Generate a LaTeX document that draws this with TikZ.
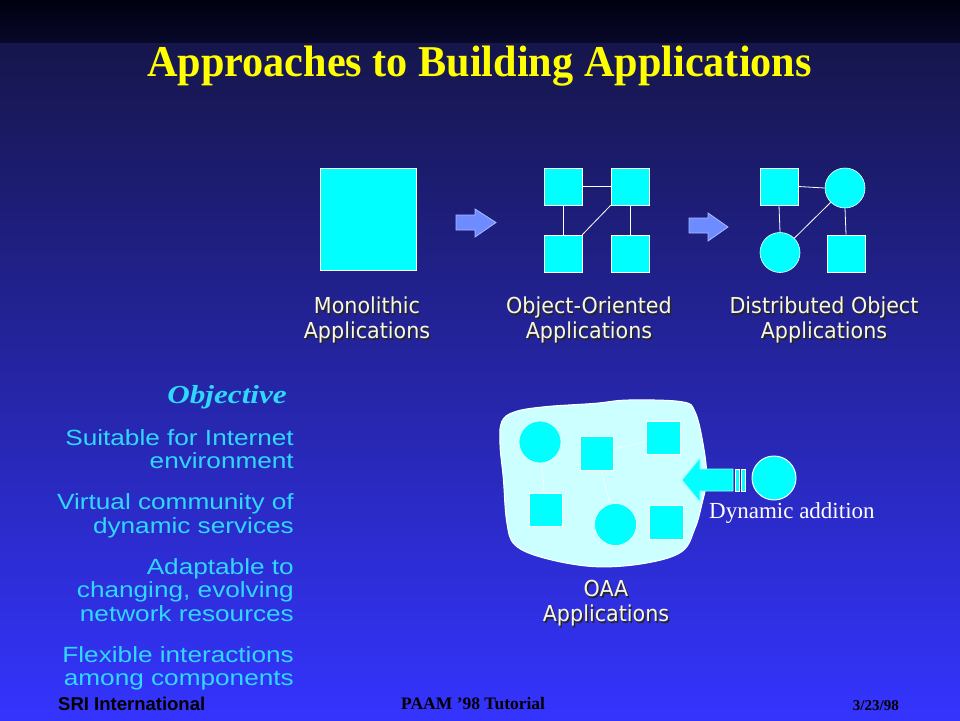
\documentclass[tikz,border=0pt]{standalone}
\usepackage{fontspec}
\setmainfont{Liberation Serif}
\newfontfamily\headfont[FakeStretch=0.96]{Liberation Serif}
\newfontfamily\objfont[FakeStretch=1.2]{Liberation Serif}
\newfontfamily\listfont[FakeStretch=1.19]{Liberation Sans}
\newfontfamily\capfont[FakeStretch=0.94]{DejaVu Sans}
\newfontfamily\footfont{Liberation Sans}
\definecolor{bgtop}{HTML}{000010}
\definecolor{bgband}{HTML}{08082A}
\definecolor{bgmid}{HTML}{16164C}
\definecolor{bgbot}{HTML}{3434FF}
\definecolor{objcyan}{HTML}{00FFFF}
\definecolor{blobcyan}{HTML}{CCFFFF}
\definecolor{flowblue}{HTML}{6E8CFF}
\definecolor{flowedge}{HTML}{A8BCFF}
\definecolor{listcyan}{HTML}{30D8FF}
\definecolor{lblcream}{HTML}{F8F8E2}
\definecolor{titleyellow}{HTML}{FFFF00}
\begin{document}
\begin{tikzpicture}[x=1pt,y=-1pt,
    obj/.style={draw=white,line width=0.6pt,fill=objcyan,inner sep=0pt,minimum width=38pt,minimum height=37pt},
    objc/.style={circle,draw=white,line width=0.6pt,fill=objcyan,inner sep=0pt,minimum size=40pt},
    link/.style={draw=white,line width=0.8pt},
    flow/.style={fill=flowblue,draw=flowedge,line width=0.8pt},
    lbl/.style={font=\capfont\fontsize{22}{25}\selectfont,text=lblcream,align=center,anchor=base,inner sep=0pt},
    lblsh/.style={lbl,text=black!85},
    list/.style={font=\listfont\fontsize{22}{23.5}\selectfont,text=listcyan,align=right,anchor=base east,inner sep=0pt}]
	\useasboundingbox (0,0) rectangle (960,720);
	\shade[top color=bgtop,bottom color=bgband] (0,0) rectangle (960,43);
	\shade[top color=bgmid,bottom color=bgbot] (0,43) rectangle (960,720);
	\node[font=\headfont\bfseries\fontsize{44}{48}\selectfont,text=titleyellow,anchor=base,inner sep=0pt] (ttl) at (479.5,76) {Approaches to Building Applications};
	% monolithic
	\node[obj,minimum width=96pt,minimum height=102pt] (mono) at (368,219) {};
	\draw[flow] (456,215) -- (475,215) -- (475,209) -- (496,222.5) -- (475,237) -- (475,230) -- (456,230) -- cycle;
	% object-oriented
	\node[obj] (a1) at (563,186.5) {};
	\node[obj] (a2) at (630,186.5) {};
	\node[obj] (a3) at (563,253.5) {};
	\node[obj] (a4) at (630,253.5) {};
	\draw[link] (a1.east) -- (a2.west);
	\draw[link] (a1.south) -- (a3.north);
	\draw[link] (a2.south) -- (a4.north);
	\draw[link] (a2.south west) -- (a3.north east);
	\draw[flow] (689,218) -- (708,218) -- (708,213) -- (728,227) -- (708,241) -- (708,233) -- (689,233) -- cycle;
	% distributed
	\node[obj] (d1) at (779,186.5) {};
	\node[objc] (d2) at (845,188) {};
	\node[objc] (d3) at (780,252.5) {};
	\node[obj] (d4) at (846,253.5) {};
	\draw[link] (d1.east) -- (d2.west);
	\draw[link] (d1.south) -- (d3.north);
	\draw[link] (d2.south) -- (d4.north);
	\draw[link] (d2.south west) -- (d3.north east);
	\node[lblsh] at (368.5,340) {Monolithic\\Applications};
	\node[lbl] (monolbl) at (367,338.5) {Monolithic\\Applications};
	\node[lblsh] at (590.5,340) {Object-Oriented\\Applications};
	\node[lbl] (oolbl) at (589,338.5) {Object-Oriented\\Applications};
	\node[lblsh] at (825.5,340) {Distributed Object\\Applications};
	\node[lbl] (dolbl) at (824,338.5) {Distributed Object\\Applications};
	% oaa
	\draw[fill=blobcyan,draw=white,line width=1pt] plot[smooth cycle,tension=0.6] coordinates {(501.7,421.7) (515,411.7) (545,406.7) (595,403.3) (628.3,400) (681.7,401.7) (695,411.7) (703.3,445) (706.7,478.3) (701.7,505) (695,528.3) (681.7,551.7) (645,563.3) (595,566.7) (545,558.3) (515,545) (506.7,521.7) (503.3,478.3) (500,445)};
	\node[objc,minimum size=42pt] (c1) at (540,442) {};
	\node[obj,minimum width=33pt,minimum height=34pt] (s2) at (596.5,453) {};
	\node[obj,minimum width=34pt,minimum height=33pt] (s3) at (663,437.5) {};
	\node[obj,minimum width=33pt,minimum height=33pt] (s4) at (545.5,509.5) {};
	\node[objc,minimum size=42pt] (c2) at (615.5,524.5) {};
	\node[obj,minimum width=34pt,minimum height=34pt] (s6) at (666,522) {};
	\draw[link,white!70!blobcyan] (c1) -- (s4);
	\draw[link,white!70!blobcyan] (s2) -- (s3);
	\draw[link,white!70!blobcyan] (s2) -- (c2);
	\draw[fill=objcyan,draw=white!60!objcyan,line width=0.8pt] (682,480) -- (700,458) -- (700,469) -- (733,469) -- (733,491) -- (700,491) -- (700,502) -- cycle;
	\draw[fill=objcyan,draw=white,line width=0.8pt] (735,469) rectangle (739,491);
	\draw[fill=objcyan,draw=white,line width=0.8pt] (741,469) rectangle (745,491);
	\node[objc,minimum size=44pt,line width=1pt] (agent) at (774,478) {};
	\node[font=\fontsize{23}{26}\selectfont,text=white,anchor=base west,inner sep=0pt] (dyn) at (709,518) {Dynamic addition};
	\node[lblsh] at (607.5,623) {OAA\\Applications};
	\node[lbl] (oaalbl) at (606,621.5) {OAA\\Applications};
	% objective
	\node[font=\objfont\bfseries\itshape\fontsize{26}{28}\selectfont,text=listcyan,anchor=base east,inner sep=0pt] (objttl) at (287,403) {Objective};
	\node[list] (goals) at (294,685.5) {Suitable for Internet\\environment\\[17.5pt]Virtual community of\\dynamic services\\[17.5pt]Adaptable to\\changing, evolving\\network resources\\[17.5pt]Flexible interactions\\among components};
	% footer
	\node[font=\footfont\bfseries\fontsize{18.5}{20}\selectfont,anchor=base west,inner sep=0pt] (org) at (58,710) {SRI International};
	\node[font=\bfseries\fontsize{17.5}{20}\selectfont,anchor=base west,inner sep=0pt] (event) at (401,709) {PAAM '98 Tutorial};
	\node[font=\bfseries\fontsize{15}{18}\selectfont,anchor=base east,inner sep=0pt] (date) at (899,710) {3/23/98};
\end{tikzpicture}
\end{document}
